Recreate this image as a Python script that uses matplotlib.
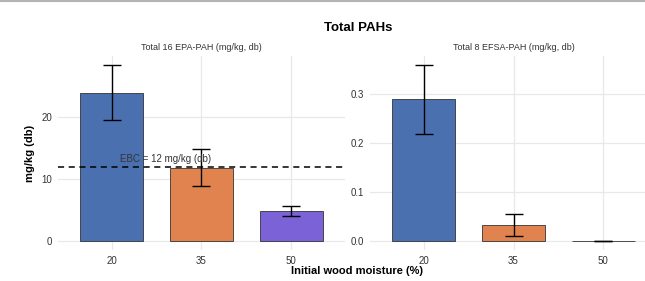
import matplotlib
matplotlib.use("Agg")
import matplotlib.pyplot as plt
from matplotlib.lines import Line2D

plt.rcParams["font.family"] = ["Liberation Sans", "DejaVu Sans"]

MOISTURE = ["20", "35", "50"]
EPA_MEAN = [24.0, 11.85, 4.9]
EPA_SD = [4.5, 3.0, 0.8]
EFSA_MEAN = [0.289, 0.033, 0.0]
EFSA_SD = [0.070, 0.023, 0.0]
EBC_LIMIT = 12.0

COLORS = ["#4a70b0", "#e0834f", "#7b62d6"]
GRID = "#e8e8e8"
TXT = "#333333"

W, H = 645, 281
fig = plt.figure(figsize=(W / 100, H / 100), dpi=100)


def px_axes(x0, x1, y0, y1):
    return fig.add_axes([x0 / W, 1 - y1 / H, (x1 - x0) / W, (y1 - y0) / H])


def style(ax, ylim, yticks, yfmt):
    xs = range(1, len(MOISTURE) + 1)
    ax.set_xlim(0.4, 3.6)
    ax.set_ylim(*ylim)
    ax.set_xticks(list(xs))
    ax.set_xticklabels(MOISTURE)
    ax.set_yticks(yticks)
    ax.set_yticklabels([yfmt.format(t) for t in yticks])
    ax.tick_params(length=0, labelsize=7, labelcolor=TXT, pad=4)
    for s in ax.spines.values():
        s.set_visible(False)
    ax.grid(True, color=GRID, lw=0.9)
    ax.set_axisbelow(True)


def panel(ax, means, sds, title):
    xs = list(range(1, len(means) + 1))
    ax.bar(xs, means, width=0.7, color=COLORS, edgecolor="#333333", linewidth=0.6, zorder=2)
    ax.errorbar(xs, means, yerr=sds, fmt="none", ecolor="black", elinewidth=1.0,
                capsize=6.8, capthick=1.0, zorder=3)
    ax.set_title(title, fontsize=6.5, color=TXT, pad=4.5)


ax1 = px_axes(58, 345, 56, 250)
panel(ax1, EPA_MEAN, EPA_SD, "Total 16 EPA-PAH (mg/kg, db)")
style(ax1, (-1.43, 29.9), [0, 10, 20], "{:.0f}")
ax1.axhline(EBC_LIMIT, color="black", ls=(0, (4, 3)), lw=1.1, zorder=4)
ax1.text(1.6, EBC_LIMIT + 1.25, f"EBC = {EBC_LIMIT:.0f} mg/kg (db)", ha="center", va="center",
         fontsize=7, color=TXT, zorder=5)
ax1.set_ylabel("mg/kg (db)", fontsize=8, fontweight="bold", labelpad=5)

ax2 = px_axes(370, 657, 56, 250)
panel(ax2, EFSA_MEAN, EFSA_SD, "Total 8 EFSA-PAH (mg/kg, db)")
style(ax2, (-0.018, 0.377), [0.0, 0.1, 0.2, 0.3], "{:.1f}")

fig.text(357 / W, 1 - 271 / H, "Initial wood moisture (%)", ha="center", va="center",
         fontsize=8, fontweight="bold")
fig.text(358 / W, 1 - 28 / H, "Total PAHs", ha="center", va="center",
         fontsize=9.5, fontweight="bold")
fig.add_artist(Line2D([0, 1], [1 - 1 / H, 1 - 1 / H], transform=fig.transFigure,
                      color="#b4b4b4", lw=1.5))

fig.savefig("out.png", dpi=100)
